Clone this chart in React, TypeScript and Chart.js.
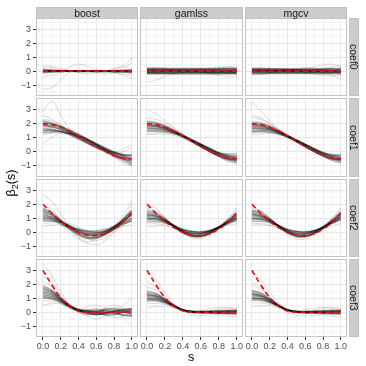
import React, { useEffect, useRef } from "react";
import { Chart, registerables } from "chart.js";
Chart.register(...registerables);

// ---------- data ----------
const sValues = [0, 0.1, 0.2, 0.3, 0.4, 0.5, 0.6, 0.7, 0.8, 0.9, 1.0];
const methods = ["boost", "gamlss", "mgcv"];
const coefNames = ["coef0", "coef1", "coef2", "coef3"];
const xTickValues = [0, 0.1, 0.2, 0.3, 0.4, 0.5, 0.6, 0.7, 0.8, 0.9, 1.0];
const xTickLabels = ["0.0", "", "0.2", "", "0.4", "", "0.6", "", "0.8", "", "1.0"];
const yTickValues = [-1.5, -1, -0.5, 0, 0.5, 1, 1.5, 2, 2.5, 3, 3.5];
const yTickLabels = ["", "\u22121", "", "0", "", "1", "", "2", "", "3", ""];

const trueCoef0 = [0, 0, 0, 0, 0, 0, 0, 0, 0, 0, 0];
const trueCoef1 = [2.0, 1.93, 1.75, 1.47, 1.13, 0.75, 0.37, 0.03, -0.26, -0.44, -0.5];
const trueCoef2 = [2.0, 1.35, 0.78, 0.32, -0.02, -0.22, -0.25, -0.1, 0.22, 0.72, 1.4];
const trueCoef3 = [3.0, 1.95, 1.05, 0.42, 0.08, 0, 0, 0, 0, 0, 0];

const boostCoef0Core = [
  [0.06, 0.04, 0.02, 0.0, -0.02, -0.02, 0.0, 0.03, 0.05, 0.05, 0.03],
  [-0.06, -0.04, -0.02, 0.0, 0.02, 0.03, 0.02, -0.02, -0.05, -0.07, -0.08],
  [0.12, 0.07, 0.03, 0.02, 0.0, 0.0, 0.0, 0.0, 0.03, 0.07, 0.1],
  [-0.12, -0.07, -0.03, 0, 0, 0, 0, 0, -0.02, -0.06, -0.12],
  [0, 0, 0, 0, 0, 0, 0, 0, 0, 0, 0],
  [0.03, 0.03, 0.03, 0.03, 0.02, 0.02, 0.02, 0.02, 0.03, 0.03, 0.03],
  [-0.03, -0.03, -0.03, -0.03, -0.03, -0.03, -0.03, -0.03, -0.03, -0.03, -0.03],
  [0.05, 0.05, 0.04, 0.03, 0.02, 0.0, -0.02, -0.02, 0.0, 0.03, 0.06],
  [-0.02, -0.01, 0.0, 0.01, 0.0, -0.01, -0.01, 0.0, 0.01, 0.0, -0.02],
];
const boostCoef0Wide = [
  [-1.3, -1.2, -0.6, -0.1, 0.05, 0.05, 0.0, 0.0, 0.0, 0.0, 0.0],
  [0.4, 0.35, 0.2, 0.05, 0.0, 0.0, 0.0, 0.0, 0.1, 0.4, 0.9],
  [0.2, 0.1, 0.0, 0.3, 0.5, 0.35, 0.1, 0.0, -0.1, -0.2, -0.3],
  [-0.4, -0.3, -0.1, 0.0, -0.1, -0.2, -0.1, 0.0, 0.2, 0.3, 0.2],
  [0.0, 0.0, 0.0, 0.0, 0.0, 0.0, -0.1, -0.2, -0.15, 0.2, 0.6],
  [0.3, 0.25, 0.1, 0.0, -0.05, 0.0, 0.0, 0.0, -0.1, -0.3, -0.5],
];
const gamlssCoef0Core = [
  [0.21, 0.21, 0.2, 0.19, 0.19, 0.19, 0.19, 0.19, 0.2, 0.21, 0.21],
  [0.17, 0.17, 0.16, 0.16, 0.16, 0.16, 0.16, 0.16, 0.16, 0.17, 0.17],
  [0.14, 0.14, 0.14, 0.13, 0.13, 0.13, 0.13, 0.13, 0.13, 0.14, 0.14],
  [0.1, 0.1, 0.1, 0.1, 0.1, 0.1, 0.1, 0.1, 0.1, 0.1, 0.1],
  [0.07, 0.07, 0.07, 0.07, 0.06, 0.06, 0.06, 0.06, 0.07, 0.07, 0.07],
  [0.03, 0.03, 0.03, 0.03, 0.03, 0.03, 0.03, 0.03, 0.03, 0.03, 0.03],
  [0.0, 0.0, 0.0, 0.0, 0.0, 0.0, 0.0, 0.0, 0.0, 0.0, 0.0],
  [-0.04, -0.04, -0.04, -0.04, -0.04, -0.04, -0.04, -0.04, -0.04, -0.04, -0.04],
  [-0.07, -0.07, -0.07, -0.07, -0.07, -0.07, -0.07, -0.07, -0.07, -0.07, -0.07],
  [-0.1, -0.1, -0.1, -0.1, -0.09, -0.09, -0.09, -0.1, -0.1, -0.1, -0.1],
  [-0.13, -0.13, -0.13, -0.13, -0.12, -0.12, -0.12, -0.12, -0.13, -0.13, -0.13],
  [-0.16, -0.16, -0.15, -0.15, -0.15, -0.15, -0.15, -0.15, -0.15, -0.16, -0.16],
  [-0.21, -0.21, -0.2, -0.2, -0.2, -0.2, -0.2, -0.2, -0.2, -0.21, -0.22],
  [0.06, 0.05, 0.04, 0.02, 0.0, -0.01, -0.02, -0.03, -0.04, -0.05, -0.06],
];
const gamlssCoef0Wide = [
  [-0.8, -0.65, -0.4, -0.2, -0.1, -0.05, 0.0, 0.0, 0.0, 0.0, 0.0],
  [0.1, 0.1, 0.05, 0.0, 0.0, 0.05, 0.1, 0.2, 0.3, 0.3, 0.25],
  [-0.1, -0.1, -0.05, 0.0, 0.0, 0.0, -0.05, -0.15, -0.3, -0.4, -0.45],
  [0.3, 0.25, 0.15, 0.05, 0.0, 0.0, 0.0, 0.05, 0.15, 0.3, 0.4],
  [0.0, 0.0, 0.05, 0.1, 0.1, 0.05, -0.05, -0.1, -0.1, 0.0, 0.15],
];
const mgcvCoef0Core = [
  [0.19, 0.19, 0.18, 0.17, 0.16, 0.16, 0.16, 0.17, 0.18, 0.19, 0.2],
  [0.15, 0.15, 0.15, 0.14, 0.14, 0.14, 0.14, 0.14, 0.14, 0.15, 0.15],
  [0.12, 0.12, 0.12, 0.11, 0.11, 0.1, 0.1, 0.1, 0.11, 0.12, 0.12],
  [0.08, 0.08, 0.08, 0.08, 0.08, 0.08, 0.08, 0.08, 0.08, 0.08, 0.08],
  [0.05, 0.05, 0.05, 0.05, 0.05, 0.05, 0.05, 0.05, 0.05, 0.05, 0.05],
  [0.02, 0.02, 0.02, 0.02, 0.02, 0.02, 0.02, 0.02, 0.02, 0.02, 0.02],
  [0, 0, 0, 0, 0, 0, 0, 0, 0, 0, 0],
  [-0.04, -0.04, -0.04, -0.04, -0.04, -0.04, -0.04, -0.04, -0.04, -0.04, -0.04],
  [-0.07, -0.07, -0.07, -0.07, -0.07, -0.07, -0.07, -0.07, -0.07, -0.07, -0.07],
  [-0.1, -0.1, -0.1, -0.1, -0.1, -0.1, -0.1, -0.1, -0.1, -0.1, -0.1],
  [-0.14, -0.14, -0.14, -0.13, -0.13, -0.13, -0.13, -0.13, -0.14, -0.14, -0.15],
  [-0.19, -0.19, -0.18, -0.18, -0.18, -0.18, -0.18, -0.18, -0.19, -0.19, -0.2],
  [0.08, 0.07, 0.05, 0.03, 0.02, 0.0, -0.02, -0.03, -0.05, -0.07, -0.08],
];
const mgcvCoef0Wide = [
  [-0.3, -0.25, -0.15, -0.05, 0.0, 0.0, 0.0, 0.0, -0.1, -0.3, -0.6],
  [0.1, 0.05, 0.0, 0.0, 0.05, 0.1, 0.2, 0.3, 0.45, 0.5, 0.3],
  [-0.2, -0.15, -0.1, 0.0, 0.1, 0.2, 0.25, 0.2, 0.1, 0.0, -0.1],
  [0.3, 0.25, 0.15, 0.05, 0.0, -0.05, -0.1, -0.2, -0.3, -0.35, -0.3],
  [0.0, 0.05, 0.1, 0.1, 0.05, 0.0, -0.05, -0.05, 0.1, 0.3, 0.45],
];

const boostCoef1Core = [
  [1.8, 1.75, 1.6, 1.35, 1.1, 0.85, 0.55, 0.25, -0.05, -0.3, -0.45],
  [2.1, 2.0, 1.75, 1.4, 1.0, 0.65, 0.3, 0.0, -0.3, -0.5, -0.6],
  [1.5, 1.5, 1.45, 1.3, 1.1, 0.9, 0.6, 0.3, 0.0, -0.2, -0.3],
  [1.9, 1.85, 1.7, 1.45, 1.15, 0.8, 0.45, 0.1, -0.2, -0.45, -0.7],
  [1.65, 1.6, 1.45, 1.2, 0.9, 0.6, 0.3, 0.05, -0.2, -0.4, -0.5],
  [2.2, 2.05, 1.8, 1.5, 1.2, 0.9, 0.55, 0.15, -0.2, -0.5, -0.8],
  [1.55, 1.55, 1.45, 1.25, 0.95, 0.65, 0.35, 0.1, -0.1, -0.25, -0.3],
  [1.9, 1.8, 1.6, 1.35, 1.05, 0.75, 0.45, 0.2, -0.05, -0.3, -0.55],
  [1.35, 1.4, 1.4, 1.3, 1.1, 0.8, 0.5, 0.2, -0.05, -0.2, -0.2],
  [2.0, 1.95, 1.8, 1.55, 1.25, 0.9, 0.5, 0.1, -0.3, -0.6, -0.9],
];
const boostCoef1Wide = [
  [2.8, 3.6, 2.6, 1.6, 1.1, 0.7, 0.4, 0.1, -0.2, -0.4, -0.5],
  [0.6, 1.0, 1.3, 1.3, 1.1, 0.8, 0.5, 0.15, -0.2, -0.5, -0.7],
  [2.6, 2.3, 1.9, 1.5, 1.2, 0.85, 0.5, 0.1, -0.3, -0.7, -1.0],
  [1.2, 1.3, 1.35, 1.25, 1.0, 0.7, 0.4, 0.2, 0.0, 0.2, 0.5],
  [2.3, 2.2, 1.9, 1.4, 1.0, 0.6, 0.3, 0.0, -0.4, -0.8, -1.0],
  [1.4, 1.4, 1.5, 1.4, 1.2, 0.9, 0.55, 0.2, -0.1, 0.0, 0.3],
];
const gamlssCoef1Core = [
  [1.8, 1.78, 1.65, 1.42, 1.12, 0.8, 0.48, 0.15, -0.17, -0.38, -0.46],
  [2.05, 1.98, 1.8, 1.5, 1.15, 0.78, 0.4, 0.05, -0.28, -0.52, -0.62],
  [1.55, 1.55, 1.48, 1.32, 1.08, 0.8, 0.5, 0.2, -0.1, -0.28, -0.32],
  [1.9, 1.85, 1.68, 1.42, 1.1, 0.74, 0.38, 0.04, -0.27, -0.5, -0.66],
  [1.7, 1.68, 1.58, 1.4, 1.15, 0.86, 0.54, 0.22, -0.08, -0.3, -0.4],
  [2.15, 2.06, 1.84, 1.52, 1.15, 0.76, 0.38, 0.02, -0.32, -0.6, -0.76],
  [1.45, 1.46, 1.42, 1.3, 1.08, 0.82, 0.54, 0.25, -0.04, -0.2, -0.24],
  [1.85, 1.82, 1.65, 1.38, 1.05, 0.7, 0.35, 0.02, -0.28, -0.48, -0.58],
  [1.65, 1.64, 1.56, 1.38, 1.12, 0.82, 0.5, 0.18, -0.12, -0.34, -0.44],
  [1.95, 1.9, 1.74, 1.48, 1.18, 0.86, 0.52, 0.17, -0.16, -0.42, -0.55],
];
const gamlssCoef1Wide = [
  [3.0, 2.7, 2.2, 1.7, 1.25, 0.85, 0.45, 0.1, -0.2, -0.4, -0.5],
  [1.2, 1.25, 1.25, 1.15, 0.95, 0.7, 0.45, 0.2, -0.05, -0.15, -0.1],
  [2.4, 2.3, 2.05, 1.65, 1.25, 0.85, 0.45, 0.05, -0.35, -0.7, -0.9],
  [1.3, 1.35, 1.35, 1.25, 1.05, 0.75, 0.4, 0.05, -0.3, -0.55, -0.8],
  [2.2, 2.1, 1.9, 1.55, 1.15, 0.75, 0.4, 0.1, -0.1, -0.15, -0.1],
];
const mgcvCoef1Core = [
  [1.75, 1.73, 1.62, 1.4, 1.11, 0.8, 0.48, 0.16, -0.15, -0.36, -0.44],
  [2.0, 1.94, 1.77, 1.48, 1.13, 0.76, 0.39, 0.05, -0.27, -0.5, -0.6],
  [1.5, 1.51, 1.45, 1.3, 1.07, 0.8, 0.51, 0.21, -0.08, -0.26, -0.3],
  [1.88, 1.83, 1.66, 1.4, 1.08, 0.73, 0.37, 0.04, -0.27, -0.5, -0.66],
  [1.68, 1.66, 1.57, 1.39, 1.14, 0.85, 0.53, 0.21, -0.08, -0.3, -0.41],
  [2.12, 2.04, 1.83, 1.51, 1.14, 0.75, 0.37, 0.02, -0.31, -0.58, -0.74],
  [1.42, 1.44, 1.4, 1.28, 1.07, 0.81, 0.53, 0.24, -0.03, -0.2, -0.25],
  [1.82, 1.79, 1.63, 1.37, 1.04, 0.7, 0.35, 0.02, -0.27, -0.47, -0.57],
  [1.62, 1.61, 1.54, 1.37, 1.11, 0.81, 0.49, 0.17, -0.12, -0.33, -0.43],
  [1.95, 1.9, 1.74, 1.48, 1.17, 0.85, 0.51, 0.16, -0.17, -0.42, -0.56],
];
const mgcvCoef1Wide = [
  [3.5, 2.9, 2.2, 1.6, 1.15, 0.8, 0.45, 0.1, -0.2, -0.45, -0.55],
  [1.2, 1.25, 1.3, 1.2, 1.0, 0.72, 0.44, 0.15, -0.1, -0.2, -0.15],
  [2.4, 2.3, 2.0, 1.6, 1.2, 0.82, 0.44, 0.05, -0.32, -0.62, -0.85],
  [1.35, 1.4, 1.38, 1.25, 1.02, 0.74, 0.42, 0.08, -0.22, -0.45, -0.6],
  [2.6, 2.4, 2.0, 1.55, 1.12, 0.75, 0.4, 0.08, -0.15, -0.25, -0.2],
];

const boostCoef2Core = [
  [1.3, 1.1, 0.75, 0.35, 0.05, -0.1, -0.1, 0.05, 0.35, 0.8, 1.2],
  [1.6, 1.3, 0.8, 0.3, -0.15, -0.4, -0.4, -0.15, 0.25, 0.75, 1.3],
  [1.0, 0.95, 0.75, 0.45, 0.2, 0.1, 0.1, 0.2, 0.45, 0.75, 1.0],
  [1.5, 1.25, 0.8, 0.3, -0.1, -0.35, -0.35, -0.1, 0.3, 0.9, 1.5],
  [1.2, 1.05, 0.75, 0.4, 0.15, 0.05, 0.0, 0.05, 0.3, 0.65, 1.0],
  [1.1, 1.0, 0.65, 0.2, -0.2, -0.45, -0.45, -0.2, 0.2, 0.75, 1.35],
  [1.4, 1.2, 0.8, 0.4, 0.1, -0.1, -0.15, 0.0, 0.35, 0.85, 1.25],
  [0.9, 0.85, 0.6, 0.3, 0.0, -0.2, -0.25, -0.1, 0.2, 0.55, 0.85],
  [1.7, 1.4, 0.9, 0.4, 0.0, -0.2, -0.2, 0.0, 0.4, 0.95, 1.55],
  [0.8, 0.8, 0.7, 0.45, 0.2, 0.0, -0.05, 0.1, 0.35, 0.6, 0.8],
];
const boostCoef2Wide = [
  [2.7, 2.2, 1.3, 0.5, 0.0, -0.3, -0.35, -0.1, 0.4, 1.2, 2.2],
  [0.4, 0.5, 0.5, 0.3, 0.1, -0.1, -0.2, -0.1, 0.2, 0.4, 0.5],
  [2.0, 1.6, 0.9, 0.2, -0.4, -0.8, -0.9, -0.6, 0.0, 0.8, 1.6],
  [0.6, 0.7, 0.7, 0.6, 0.35, 0.1, 0.0, 0.1, 0.4, 0.8, 1.4],
  [1.8, 1.4, 0.8, 0.2, -0.3, -0.5, -0.6, -0.4, 0.0, 0.5, 0.9],
  [1.0, 0.9, 0.5, 0.0, -0.5, -0.7, -0.5, -0.1, 0.3, 0.9, 1.9],
];
const gamlssCoef2Core = [
  [1.1, 1.05, 0.8, 0.42, 0.08, -0.1, -0.1, 0.08, 0.38, 0.72, 1.0],
  [1.3, 1.2, 0.88, 0.42, 0.0, -0.25, -0.25, -0.04, 0.33, 0.8, 1.22],
  [0.9, 0.88, 0.72, 0.46, 0.18, 0.04, 0.0, 0.1, 0.36, 0.66, 0.9],
  [1.5, 1.35, 0.95, 0.42, -0.05, -0.32, -0.32, -0.1, 0.3, 0.85, 1.38],
  [1.0, 0.98, 0.8, 0.48, 0.16, 0.0, -0.02, 0.1, 0.36, 0.7, 1.05],
  [1.2, 1.12, 0.82, 0.38, -0.02, -0.24, -0.26, -0.06, 0.28, 0.72, 1.12],
  [0.75, 0.75, 0.66, 0.44, 0.2, 0.06, 0.03, 0.12, 0.34, 0.62, 0.85],
  [1.4, 1.28, 0.9, 0.42, 0.0, -0.26, -0.3, -0.1, 0.3, 0.8, 1.3],
  [1.25, 1.16, 0.88, 0.46, 0.08, -0.14, -0.16, 0.02, 0.36, 0.78, 1.18],
  [0.95, 0.93, 0.76, 0.44, 0.1, -0.08, -0.12, 0.02, 0.3, 0.64, 0.98],
];
const gamlssCoef2Wide = [
  [2.0, 1.7, 1.1, 0.5, 0.0, -0.3, -0.3, -0.05, 0.4, 1.0, 1.7],
  [0.4, 0.45, 0.45, 0.3, 0.1, -0.05, -0.1, 0.0, 0.25, 0.5, 0.6],
  [1.7, 1.5, 1.0, 0.4, -0.1, -0.4, -0.45, -0.2, 0.25, 0.9, 1.5],
  [0.6, 0.6, 0.5, 0.3, 0.05, -0.2, -0.3, -0.15, 0.2, 0.55, 0.8],
  [1.6, 1.45, 1.05, 0.5, 0.05, -0.15, -0.1, 0.1, 0.45, 0.95, 1.6],
];
const mgcvCoef2Core = [
  [1.15, 1.08, 0.82, 0.43, 0.08, -0.11, -0.11, 0.07, 0.37, 0.73, 1.04],
  [1.35, 1.23, 0.89, 0.42, -0.01, -0.26, -0.27, -0.05, 0.34, 0.82, 1.26],
  [0.92, 0.9, 0.73, 0.46, 0.18, 0.04, 0.0, 0.1, 0.36, 0.67, 0.93],
  [1.55, 1.38, 0.96, 0.42, -0.06, -0.33, -0.34, -0.11, 0.31, 0.87, 1.42],
  [1.04, 1.0, 0.8, 0.48, 0.16, 0.0, -0.02, 0.1, 0.36, 0.71, 1.08],
  [1.24, 1.14, 0.83, 0.38, -0.02, -0.24, -0.27, -0.06, 0.29, 0.74, 1.16],
  [0.78, 0.78, 0.68, 0.45, 0.2, 0.06, 0.03, 0.12, 0.34, 0.63, 0.88],
  [1.45, 1.3, 0.91, 0.42, 0.0, -0.27, -0.31, -0.1, 0.31, 0.82, 1.34],
  [1.28, 1.18, 0.88, 0.46, 0.08, -0.14, -0.16, 0.02, 0.36, 0.79, 1.2],
  [0.98, 0.95, 0.77, 0.44, 0.1, -0.08, -0.12, 0.02, 0.3, 0.65, 1.0],
];
const mgcvCoef2Wide = [
  [1.8, 1.55, 1.05, 0.5, 0.02, -0.28, -0.3, -0.06, 0.4, 1.0, 1.7],
  [0.5, 0.52, 0.48, 0.32, 0.1, -0.05, -0.1, 0.0, 0.22, 0.48, 0.6],
  [1.6, 1.45, 1.0, 0.4, -0.12, -0.45, -0.5, -0.25, 0.2, 0.85, 1.55],
  [0.6, 0.62, 0.52, 0.3, 0.04, -0.2, -0.32, -0.18, 0.18, 0.6, 0.9],
  [1.7, 1.5, 1.05, 0.48, 0.02, -0.2, -0.15, 0.08, 0.45, 0.98, 1.65],
];

const boostCoef3Core = [
  [1.5, 1.3, 0.9, 0.45, 0.15, 0.05, 0.1, 0.15, 0.1, 0.0, -0.1],
  [1.8, 1.5, 1.0, 0.5, 0.15, -0.05, -0.15, -0.15, -0.1, -0.05, 0.0],
  [1.2, 1.1, 0.8, 0.4, 0.1, -0.1, -0.15, -0.05, 0.1, 0.2, 0.25],
  [1.6, 1.4, 0.95, 0.45, 0.1, 0.0, 0.05, 0.2, 0.25, 0.1, -0.15],
  [1.0, 0.95, 0.7, 0.35, 0.1, 0.05, -0.05, -0.2, -0.2, 0.0, 0.2],
  [1.4, 1.25, 0.85, 0.4, 0.15, 0.15, 0.2, 0.1, -0.05, -0.2, -0.3],
  [1.7, 1.45, 0.95, 0.45, 0.15, 0.0, -0.1, -0.05, 0.05, 0.15, 0.25],
  [1.3, 1.15, 0.85, 0.45, 0.2, 0.1, 0.0, -0.05, -0.1, -0.2, -0.25],
  [1.1, 1.0, 0.75, 0.4, 0.1, -0.1, -0.2, -0.1, 0.05, 0.15, 0.1],
  [1.9, 1.6, 1.05, 0.5, 0.15, 0.1, 0.05, 0.0, 0.0, 0.05, 0.1],
];
const boostCoef3Wide = [
  [3.5, 2.6, 1.5, 0.6, 0.1, -0.1, 0.0, 0.2, 0.3, 0.2, 0.0],
  [0.5, 0.6, 0.6, 0.4, 0.2, 0.1, 0.0, -0.2, -0.4, -0.3, 0.0],
  [2.6, 2.1, 1.3, 0.5, 0.0, -0.2, -0.1, 0.1, 0.2, 0.5, 1.0],
  [1.1, 1.0, 0.7, 0.3, 0.0, -0.3, -0.5, -0.3, 0.0, -0.4, -1.0],
  [2.2, 1.8, 1.1, 0.5, 0.2, 0.4, 0.5, 0.3, 0.1, 0.0, -0.3],
  [0.8, 0.8, 0.6, 0.3, 0.0, -0.2, -0.1, 0.3, 0.5, 0.3, -0.2],
];
const gamlssCoef3Core = [
  [1.1, 1.05, 0.8, 0.45, 0.15, 0.02, 0.0, 0.0, 0.0, 0.0, 0.0],
  [1.3, 1.2, 0.9, 0.5, 0.18, 0.05, 0.04, 0.06, 0.08, 0.08, 0.08],
  [0.9, 0.88, 0.7, 0.42, 0.15, 0.03, -0.02, -0.05, -0.06, -0.06, -0.06],
  [1.5, 1.35, 0.95, 0.5, 0.15, 0.0, -0.06, -0.08, -0.1, -0.12, -0.12],
  [1.0, 0.98, 0.75, 0.42, 0.12, 0.0, 0.0, 0.03, 0.06, 0.1, 0.12],
  [1.2, 1.12, 0.85, 0.45, 0.15, 0.04, 0.03, 0.08, 0.12, 0.14, 0.14],
  [0.8, 0.8, 0.65, 0.4, 0.15, 0.05, 0.02, 0.0, -0.05, -0.1, -0.12],
  [1.4, 1.28, 0.92, 0.48, 0.15, 0.02, 0.02, 0.0, 0.0, 0.02, 0.04],
  [1.25, 1.15, 0.86, 0.46, 0.14, -0.02, -0.06, -0.04, -0.02, 0.0, 0.0],
  [0.95, 0.93, 0.74, 0.43, 0.16, 0.06, 0.05, 0.03, 0.02, 0.04, 0.06],
];
const gamlssCoef3Wide = [
  [3.0, 2.3, 1.4, 0.6, 0.15, 0.0, 0.0, 0.0, 0.0, 0.0, 0.0],
  [0.35, 0.4, 0.4, 0.3, 0.15, 0.05, 0.0, -0.05, -0.1, -0.1, -0.1],
  [2.2, 1.8, 1.1, 0.5, 0.1, -0.05, 0.0, 0.1, 0.25, 0.3, 0.3],
  [1.8, 1.6, 1.1, 0.5, 0.05, -0.2, -0.25, -0.2, -0.2, -0.3, -0.3],
  [0.6, 0.62, 0.55, 0.35, 0.15, 0.1, 0.15, 0.25, 0.35, 0.3, 0.2],
];
const mgcvCoef3Core = [
  [1.15, 1.08, 0.82, 0.46, 0.16, 0.02, 0.0, 0.0, 0.0, 0.0, 0.0],
  [1.35, 1.22, 0.92, 0.5, 0.18, 0.05, 0.04, 0.06, 0.08, 0.08, 0.08],
  [0.95, 0.92, 0.72, 0.43, 0.15, 0.03, -0.02, -0.05, -0.06, -0.06, -0.06],
  [1.55, 1.38, 0.98, 0.52, 0.16, 0.0, -0.06, -0.08, -0.1, -0.12, -0.12],
  [1.05, 1.0, 0.77, 0.43, 0.13, 0.0, 0.0, 0.03, 0.06, 0.1, 0.12],
  [1.25, 1.15, 0.87, 0.46, 0.15, 0.04, 0.03, 0.08, 0.12, 0.14, 0.14],
  [0.85, 0.84, 0.68, 0.41, 0.15, 0.05, 0.02, 0.0, -0.05, -0.1, -0.12],
  [1.45, 1.3, 0.94, 0.49, 0.15, 0.02, 0.02, 0.0, 0.0, 0.02, 0.04],
  [1.3, 1.18, 0.88, 0.47, 0.14, -0.02, -0.06, -0.04, -0.02, 0.0, 0.0],
  [1.0, 0.96, 0.75, 0.43, 0.16, 0.06, 0.05, 0.03, 0.02, 0.04, 0.06],
];
const mgcvCoef3Wide = [
  [2.9, 2.3, 1.45, 0.65, 0.15, 0.0, 0.0, 0.0, 0.0, 0.0, 0.0],
  [0.4, 0.45, 0.45, 0.32, 0.15, 0.05, 0.0, -0.05, -0.12, -0.15, -0.1],
  [2.1, 1.75, 1.1, 0.5, 0.1, -0.05, 0.0, 0.15, 0.28, 0.32, 0.3],
  [1.9, 1.65, 1.12, 0.5, 0.02, -0.22, -0.28, -0.22, -0.2, -0.3, -0.35],
  [0.65, 0.66, 0.58, 0.38, 0.18, 0.12, 0.18, 0.28, 0.35, 0.28, 0.15],
];

const truthByCoef = [trueCoef0, trueCoef1, trueCoef2, trueCoef3];
const coreGrid = [
  [boostCoef0Core, gamlssCoef0Core, mgcvCoef0Core],
  [boostCoef1Core, gamlssCoef1Core, mgcvCoef1Core],
  [boostCoef2Core, gamlssCoef2Core, mgcvCoef2Core],
  [boostCoef3Core, gamlssCoef3Core, mgcvCoef3Core],
];
const wideGrid = [
  [boostCoef0Wide, gamlssCoef0Wide, mgcvCoef0Wide],
  [boostCoef1Wide, gamlssCoef1Wide, mgcvCoef1Wide],
  [boostCoef2Wide, gamlssCoef2Wide, mgcvCoef2Wide],
  [boostCoef3Wide, gamlssCoef3Wide, mgcvCoef3Wide],
];

// ---------- layout ----------
const FONT = "'Liberation Sans', Arial, Helvetica, sans-serif";
const COL_X = [36, 140, 245];
const COL_W = [102, 103, 102];
const ROW_Y = [18, 98, 179, 259];
const ROW_H = [78, 79, 78, 78];
const AXIS_W = 36;
const AXIS_H = 20;
const X_MIN = -0.078;
const X_MAX = 1.07;
const Y_MIN = -1.79;
const Y_MAX = 3.82;

const toPoints = (ys: number[]) => ys.map((y, i) => ({ x: sValues[i], y }));

function Panel({ row, col }: { row: number; col: number }) {
  const ref = useRef<HTMLCanvasElement>(null);
  const isLeft = col === 0;
  const isBottom = row === coefNames.length - 1;
  const left = COL_X[col] - (isLeft ? AXIS_W : 0);
  const top = ROW_Y[row];
  const w = COL_W[col] + (isLeft ? AXIS_W : 0);
  const h = ROW_H[row] + (isBottom ? AXIS_H : 0);

  useEffect(() => {
    const core = coreGrid[row][col];
    const wide = wideGrid[row][col];
    const datasets: any[] = [
      {
        data: toPoints(truthByCoef[row]),
        borderColor: "#FF0000",
        borderWidth: 1.6,
        borderDash: [5, 3.5],
        pointRadius: 0,
        tension: 0.4,
        order: 0,
      },
    ];
    wide.forEach((ys) =>
      datasets.push({
        data: toPoints(ys),
        borderColor: "rgba(0,0,0,0.14)",
        borderWidth: 1,
        pointRadius: 0,
        tension: 0.4,
        order: 2,
      })
    );
    core.forEach((ys) =>
      datasets.push({
        data: toPoints(ys),
        borderColor: "rgba(0,0,0,0.3)",
        borderWidth: 1.5,
        pointRadius: 0,
        tension: 0.4,
        order: 1,
      })
    );
    const tickFont = { family: FONT, size: 9 };
    const chart = new Chart(ref.current as HTMLCanvasElement, {
      type: "line",
      data: { datasets },
      options: {
        animation: false,
        responsive: false,
        maintainAspectRatio: false,
        events: [],
        layout: { padding: 0 },
        plugins: { legend: { display: false }, tooltip: { enabled: false }, title: { display: false } },
        scales: {
          x: {
            type: "linear",
            min: X_MIN,
            max: X_MAX,
            afterBuildTicks: (s: any) => {
              s.ticks = xTickValues.map((v) => ({ value: v }));
            },
            afterFit: (s: any) => {
              s.height = isBottom ? AXIS_H : 0;
              s.paddingLeft = 0;
              s.paddingRight = 0;
            },
            ticks: {
              display: isBottom,
              autoSkip: false,
              maxRotation: 0,
              minRotation: 0,
              padding: 1,
              color: "#4D4D4D",
              font: tickFont,
              callback: (_v: any, i: number) => xTickLabels[i],
            },
            grid: {
              color: (ctx: any) => (ctx.index % 2 === 0 ? "#E6E6E6" : "#F4F4F4"),
              lineWidth: 1,
              drawTicks: isBottom,
              tickLength: 3,
              tickColor: (ctx: any) => (ctx.index % 2 === 0 ? "#333333" : "rgba(0,0,0,0)"),
            },
            border: { display: false },
          },
          y: {
            type: "linear",
            min: Y_MIN,
            max: Y_MAX,
            afterBuildTicks: (s: any) => {
              s.ticks = yTickValues.map((v) => ({ value: v }));
            },
            afterFit: (s: any) => {
              s.width = isLeft ? AXIS_W : 0;
              s.paddingTop = 0;
              s.paddingBottom = 0;
            },
            ticks: {
              display: isLeft,
              autoSkip: false,
              padding: 2,
              color: "#4D4D4D",
              font: tickFont,
              callback: (_v: any, i: number) => yTickLabels[i],
            },
            grid: {
              color: (ctx: any) => (ctx.index % 2 === 1 ? "#E6E6E6" : "#F4F4F4"),
              lineWidth: 1,
              drawTicks: isLeft,
              tickLength: 3,
              tickColor: (ctx: any) => (ctx.index % 2 === 1 ? "#333333" : "rgba(0,0,0,0)"),
            },
            border: { display: false },
          },
        },
      } as any,
    });
    return () => chart.destroy();
  }, [row, col]);

  return (
    <>
      <canvas
        ref={ref}
        width={w}
        height={h}
        style={{ position: "absolute", left, top, width: w, height: h }}
      />
      <div
        style={{
          position: "absolute",
          left: COL_X[col],
          top: ROW_Y[row],
          width: COL_W[col],
          height: ROW_H[row],
          boxSizing: "border-box",
          border: "1px solid #C4C4C4",
          pointerEvents: "none",
        }}
      />
    </>
  );
}

export default function App() {
  const panels: React.ReactNode[] = [];
  coefNames.forEach((_c, r) => methods.forEach((_m, c) => panels.push(<Panel key={`${r}-${c}`} row={r} col={c} />)));
  return (
    <div
      style={{
        position: "absolute",
        left: 0,
        top: 0,
        width: 366,
        height: 366,
        overflow: "hidden",
        background: "#FFFFFF",
        fontFamily: FONT,
      }}
    >
      {panels}
      {methods.map((m, c) => (
        <div
          key={m}
          style={{
            position: "absolute",
            left: COL_X[c],
            top: 7,
            width: COL_W[c],
            height: 11,
            boxSizing: "border-box",
            background: "#CCCCCC",
            border: "1px solid #C0C0C0",
            borderBottom: "none",
            color: "#1A1A1A",
            fontSize: 10.5,
            lineHeight: "10px",
            textAlign: "center",
          }}
        >
          {m}
        </div>
      ))}
      {coefNames.map((cn, r) => (
        <div
          key={cn}
          style={{
            position: "absolute",
            left: 349,
            top: ROW_Y[r],
            width: 10,
            height: ROW_H[r],
            boxSizing: "border-box",
            background: "#CCCCCC",
            border: "1px solid #C0C0C0",
            borderLeft: "none",
            display: "flex",
            alignItems: "center",
            justifyContent: "center",
          }}
        >
          <span style={{ writingMode: "vertical-rl", fontSize: 10.5, lineHeight: "10px", color: "#1A1A1A" }}>{cn}</span>
        </div>
      ))}
      <div
        style={{
          position: "absolute",
          left: 12,
          top: 183,
          transform: "translate(-50%, -50%) rotate(-90deg)",
          fontSize: 12.5,
          color: "#000",
          whiteSpace: "nowrap",
        }}
      >
        {"\u03B2"}
        <sub style={{ fontSize: 9, verticalAlign: "-3px" }}>2</sub>
        (s)
      </div>
      <div
        style={{
          position: "absolute",
          left: 191,
          top: 357,
          transform: "translate(-50%, -50%)",
          fontSize: 12.5,
          color: "#000",
        }}
      >
        s
      </div>
    </div>
  );
}
